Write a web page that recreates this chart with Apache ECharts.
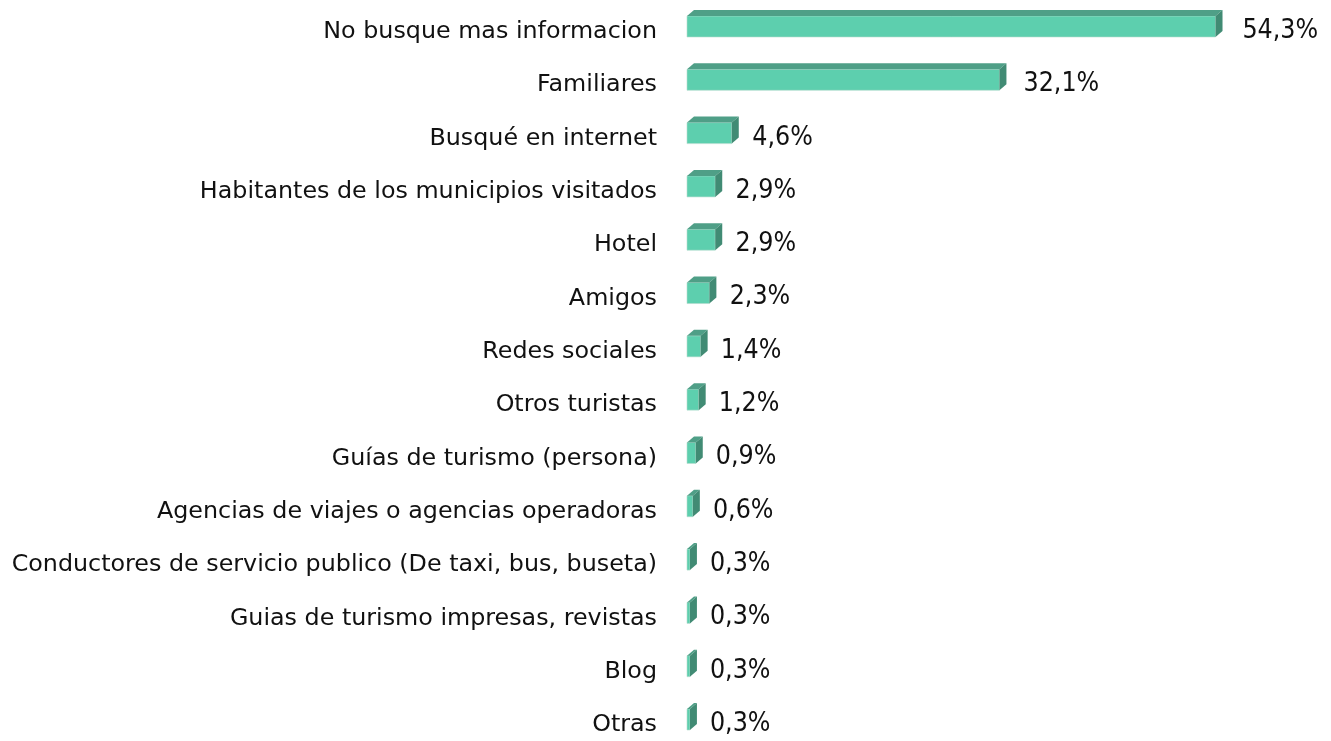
<!DOCTYPE html>
<html>
<head>
<meta charset="utf-8">
<script src="https://cdn.jsdelivr.net/npm/echarts@6/dist/echarts.min.js"></script>
<style>
html,body{margin:0;padding:0;background:#fff;}
#chart{width:1331px;height:741px;}
</style>
</head>
<body>
<div id="chart"></div>
<script>
const categories = [
  "No busque mas informacion",
  "Familiares",
  "Busqué en internet",
  "Habitantes de los municipios visitados",
  "Hotel",
  "Amigos",
  "Redes sociales",
  "Otros turistas",
  "Guías de turismo (persona)",
  "Agencias de viajes o agencias operadoras",
  "Conductores de servicio publico (De taxi, bus, buseta)",
  "Guias de turismo impresas, revistas",
  "Blog",
  "Otras"
];
const values = [54.3, 32.1, 4.6, 2.9, 2.9, 2.3, 1.4, 1.2, 0.9, 0.6, 0.3, 0.3, 0.3, 0.3];

const FRONT = '#5dcfae';
const TOP = '#4f9f87';
const SIDE = '#418b74';
const DX = 7;
const DY = 6;

const chart = echarts.init(document.getElementById('chart'));
chart.setOption({
  animation: false,
  backgroundColor: '#ffffff',
  grid: { left: 687, top: 32, width: 584, height: 693 },
  xAxis: {
    type: 'value', min: 0, max: 60, show: false
  },
  yAxis: {
    type: 'category',
    data: categories,
    inverse: true,
    boundaryGap: false,
    axisLine: { show: false },
    axisTick: { show: false },
    splitLine: { show: false },
    axisLabel: {
      margin: 30,
      fontFamily: 'DejaVu Sans',
      fontSize: 23.8,
      color: '#111111'
    }
  },
  series: [{
    type: 'custom',
    data: values.map((v, i) => [v, i]),
    encode: { x: 0, y: 1 },
    clip: false,
    renderItem: function (params, api) {
      const v = api.value(0);
      const ci = api.value(1);
      const p0 = api.coord([0, ci]);
      const p1 = api.coord([v, ci]);
      const cy = p0[1];
      const x0 = p0[0], x1 = p1[0];
      const top = cy - 16, bot = cy + 5;
      const label = v.toFixed(1).replace('.', ',') + '%';
      return {
        type: 'group',
        children: [
          { type: 'rect', shape: { x: x0, y: top, width: x1 - x0, height: bot - top },
            style: { fill: FRONT, stroke: '#b5dccf', lineWidth: 0.6 } },
          { type: 'polygon', shape: { points: [[x0, top], [x0 + DX, top - DY], [x1 + DX, top - DY], [x1, top]] },
            style: { fill: TOP } },
          { type: 'polygon', shape: { points: [[x1, top], [x1 + DX, top - DY], [x1 + DX, bot - DY], [x1, bot]] },
            style: { fill: SIDE } },
          { type: 'text', style: {
              text: label, x: x0 + 20 + (x1 - x0) * 1.013, y: cy - 1,
              verticalAlign: 'middle', align: 'left',
              fontFamily: 'DejaVu Sans Condensed', fontSize: 26.5, fill: '#111111'
            } }
        ]
      };
    }
  }]
});
</script>
</body>
</html>
